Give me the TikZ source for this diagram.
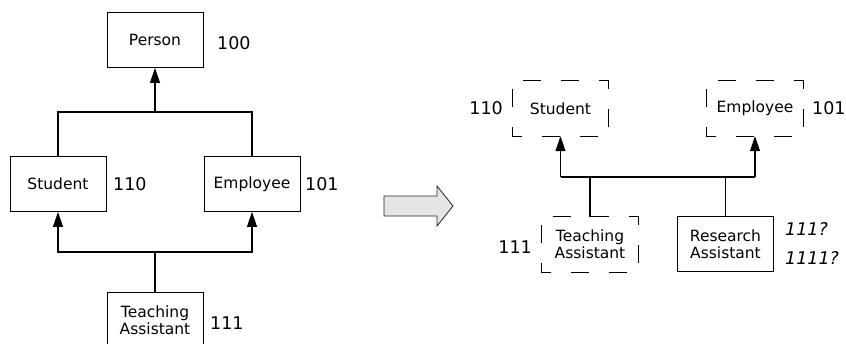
\documentclass[tikz,border=0pt]{standalone}
\usepackage{fontspec}
\setmainfont{DejaVu Sans}
\usetikzlibrary{arrows.meta}
\begin{document}
\begin{tikzpicture}[x=1pt,y=-1pt,
  box/.style={draw=black,line width=0.9pt,minimum width=96pt,minimum height=55pt,
    inner sep=0pt,align=center,font=\fontsize{15.5}{17}\selectfont},
  ghost/.style={minimum width=96pt,minimum height=55pt,
    inner sep=0pt,align=center,font=\fontsize{15.5}{17}\selectfont},
  dashedge/.style={line width=0.9pt,dash pattern=on 18pt off 20pt,dash phase=27pt},
  code/.style={inner sep=0pt,font=\fontsize{17.5}{20}\selectfont},
  guess/.style={code,font=\fontsize{17.5}{20}\selectfont\itshape},
  link/.style={line width=1.2pt},
  isa/.style={link,-{Triangle[length=15pt,width=10pt]}},
  bigarrow/.style={draw=black!85,line width=0.8pt,fill=black!10}
]
\useasboundingbox (0,0) rectangle (846,344);

% ---- class hierarchy ----
\node[box] (person)  at (155,40)  {Person};
\node[box] (student) at (58,184)  {Student};
\node[box] (employee)at (252,184) {Employee};
\node[box] (ta)      at (155,320) {Teaching\\Assistant};

\node[code,anchor=west] (cPerson)  at (217,43.5) {100};
\node[code,anchor=west] (cStudent) at (113,184.5) {110};
\node[code,anchor=west] (cEmployee)at (305,184.5) {101};
\node[code,anchor=west] (cTa)      at (210,323.5) {111};

\coordinate (upJoin) at (155,112);
\coordinate (loJoin) at (155,252);
\draw[link] (student.north) |- (upJoin) -| (employee.north);
\draw[isa] (upJoin) -- (person.south);
\draw[link] (ta.north) -- (loJoin);
\draw[isa] (loJoin) -| (student.south);
\draw[isa] (loJoin) -| (employee.south);

% ---- transformation arrow ----
\draw[bigarrow] (384,196) -- (437,196) -- (437,186) -- (453,206) -- (437,226)
  -- (437,216) -- (384,216) -- cycle;

% ---- flattened view ----
\node[ghost] (rStudent)  at (560.5,108.5) {Student};
\node[ghost] (rEmployee) at (755,108.5)   {Employee};
\node[ghost] (rTa)       at (590,244.5)   {Teaching\\Assistant};
\node[box]   (rRa)       at (725.5,244)   {Research\\Assistant};

\foreach \n in {rStudent,rEmployee,rTa}
  \draw[dashedge] (\n.north west) -- (\n.north east) -- (\n.south east)
    -- (\n.south west) -- cycle;

\node[code,anchor=east] (crStudent)  at (503,108.5) {110};
\node[code,anchor=west] (crEmployee) at (812,108.5) {101};
\node[code,anchor=east] (crTa)       at (532,247)   {111};
\node[guess,anchor=west] (crRaA)     at (785,229)   {111?};
\node[guess,anchor=west] (crRaB)     at (785,258)   {1111?};

\coordinate (jl) at (560.5,177);
\coordinate (jr) at (755,177);
\draw[link] (jl) -- (jr);
\draw[isa] (jl) -- (rStudent.south);
\draw[isa] (jr) -- (rEmployee.south);
\draw[link] (rTa.north) -- (rTa.north |- jl);
\draw[link] (rRa.north) -- (rRa.north |- jl);
\end{tikzpicture}
\end{document}
